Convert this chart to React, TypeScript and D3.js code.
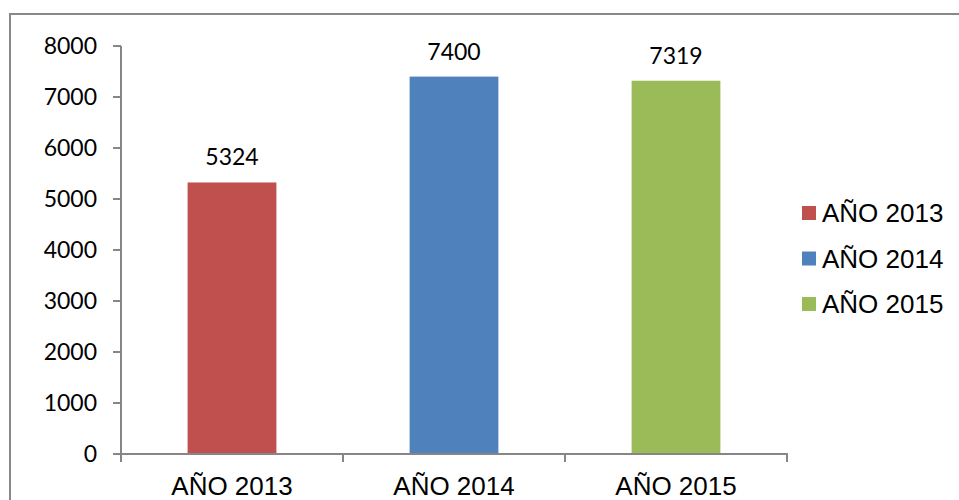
import { useEffect, useRef } from 'react';
import * as d3 from 'd3';

const categories = ['AÑO 2013', 'AÑO 2014', 'AÑO 2015'];
const values = [5324, 7400, 7319];
const colors = ['#C0504D', '#4F81BD', '#9BBB59'];
const yTicks = [0, 1000, 2000, 3000, 4000, 5000, 6000, 7000, 8000];

export default function App() {
  const svgRef = useRef<SVGSVGElement>(null);

  useEffect(() => {
    if (!svgRef.current) return;
    const svg = d3.select(svgRef.current);
    svg.selectAll('*').remove();

    const axisColor = '#868686';
    const left = 121, right = 787, top = 46, bottom = 454;

    // outer frame (runs off the picture at right and bottom)
    svg.append('rect')
      .attr('x', 10).attr('y', 14)
      .attr('width', 1000).attr('height', 600)
      .attr('fill', 'none')
      .attr('stroke', '#898989')
      .attr('stroke-width', 2);

    const x = d3.scaleBand<string>().domain(categories).range([left, right]).paddingInner(0).paddingOuter(0);
    const y = d3.scaleLinear().domain([0, 8000]).range([bottom, top]);

    // bars
    const barW = x.bandwidth() * 0.4;
    svg.append('g').selectAll('rect')
      .data(values)
      .enter()
      .append('rect')
      .attr('x', (d, i) => x(categories[i])! + x.bandwidth() / 2 - barW / 2)
      .attr('y', d => y(d))
      .attr('width', barW)
      .attr('height', d => y(0) - y(d))
      .attr('fill', (d, i) => colors[i]);

    // data labels
    svg.append('g').selectAll('text')
      .data(values)
      .enter()
      .append('text')
      .attr('x', (d, i) => x(categories[i])! + x.bandwidth() / 2)
      .attr('y', d => y(d) - 17)
      .attr('text-anchor', 'middle')
      .attr('font-family', 'Lato, "Open Sans", sans-serif')
      .attr('font-size', '23px')
      .attr('fill', '#000')
      .text(d => d);

    // y axis
    const yAxis = svg.append('g');
    yAxis.append('line')
      .attr('x1', left).attr('x2', left)
      .attr('y1', top).attr('y2', bottom)
      .attr('stroke', axisColor).attr('stroke-width', 2);
    yAxis.selectAll('.yt')
      .data(yTicks)
      .enter()
      .append('line')
      .attr('x1', left - 8).attr('x2', left)
      .attr('y1', d => y(d)).attr('y2', d => y(d))
      .attr('stroke', axisColor).attr('stroke-width', 2);
    yAxis.selectAll('.yl')
      .data(yTicks)
      .enter()
      .append('text')
      .attr('x', 97)
      .attr('y', d => y(d))
      .attr('dy', '0.35em')
      .attr('text-anchor', 'end')
      .attr('font-family', 'Lato, "Open Sans", sans-serif')
      .attr('font-size', '23px')
      .attr('fill', '#000')
      .text(d => d);

    // x axis
    const xAxis = svg.append('g');
    xAxis.append('line')
      .attr('x1', left - 8).attr('x2', right + 1)
      .attr('y1', bottom).attr('y2', bottom)
      .attr('stroke', axisColor).attr('stroke-width', 2);
    const edges = categories.map(c => x(c)!).concat([right]);
    xAxis.selectAll('.xt')
      .data(edges)
      .enter()
      .append('line')
      .attr('x1', d => d).attr('x2', d => d)
      .attr('y1', bottom).attr('y2', bottom + 8)
      .attr('stroke', axisColor).attr('stroke-width', 2);
    xAxis.selectAll('.xl')
      .data(categories)
      .enter()
      .append('text')
      .attr('x', d => x(d)! + x.bandwidth() / 2)
      .attr('y', 495)
      .attr('text-anchor', 'middle')
      .attr('font-family', '"Liberation Sans", Arial, sans-serif')
      .attr('font-size', '26px')
      .attr('fill', '#000')
      .text(d => d);

    // legend
    const legend = svg.append('g').attr('transform', 'translate(802, 213)');
    const items = legend.selectAll('.li')
      .data(categories)
      .enter()
      .append('g')
      .attr('transform', (d, i) => `translate(0, ${i * 45.5})`);
    items.append('rect')
      .attr('x', 0).attr('y', -7)
      .attr('width', 14).attr('height', 14)
      .attr('fill', (d, i) => colors[i]);
    items.append('text')
      .attr('x', 20)
      .attr('y', 0)
      .attr('dy', '0.35em')
      .attr('font-family', '"Liberation Sans", Arial, sans-serif')
      .attr('font-size', '26px')
      .attr('fill', '#000')
      .text(d => d);
  }, []);

  return (
    <svg
      ref={svgRef}
      width={959}
      height={500}
      style={{ position: 'absolute', left: 0, top: 0, background: 'white', display: 'block' }}
    />
  );
}
